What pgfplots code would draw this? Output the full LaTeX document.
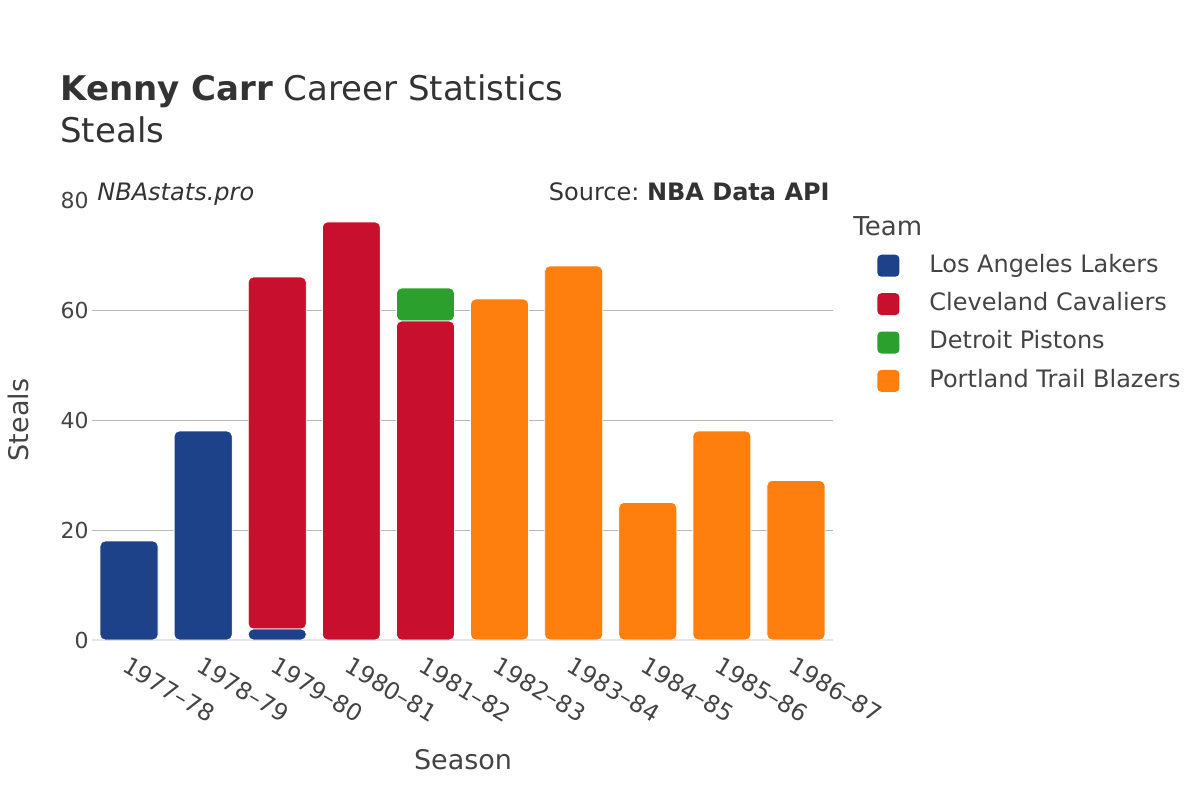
\documentclass[border=0pt]{standalone}
\usepackage{pgfplots}
\pgfplotsset{compat=1.18}
\usepackage{fontspec}
\setmainfont{DejaVu Sans}
\definecolor{lal}{RGB}{29,66,138}
\definecolor{cle}{RGB}{200,16,46}
\definecolor{det}{RGB}{44,160,44}
\definecolor{por}{RGB}{255,127,14}
\definecolor{txt}{RGB}{68,68,68}
\definecolor{ttl}{RGB}{51,51,51}
\begin{document}
\begin{tikzpicture}
\path[use as bounding box] (0pt,0pt) rectangle (600pt,400pt);
\begin{axis}[
  at={(46pt,80pt)}, anchor=south west,
  scale only axis, width=370.5pt, height=220pt,
  xmin=-0.5, xmax=9.5, ymin=0, ymax=80,
  ybar stacked, bar width=29pt,
  axis line style={draw=none},
  x axis line style={draw=none},
  major tick length=0pt,
  xtick={0,...,9},
  xticklabels={1977–78,1978–79,1979–80,1980–81,1981–82,1982–83,1983–84,1984–85,1985–86,1986–87},
  xticklabel style={rotate=-31, anchor=north west, xshift=1pt, yshift=-3pt, font=\fontsize{11.8pt}{13pt}\selectfont, text=txt},
  ytick={0,20,40,60,80},
  yticklabel style={font=\fontsize{11pt}{13pt}\selectfont, text=txt, inner sep=0pt, xshift=-1.5pt},
  /pgf/number format/assume math mode=true,
  extra y ticks={20,40,60}, extra y tick labels={},
  extra y tick style={grid=major, major grid style={draw=black!28, line width=0.5pt}},
  legend style={at={(1.0594,0.877)}, anchor=north west, draw=none, fill=none,
    inner sep=0pt, row sep=8pt, column sep=15pt,
    font=\fontsize{12pt}{14pt}\selectfont, text=txt,
    nodes={inner sep=0pt, text height=8.8pt, text depth=2.4pt},
    cells={anchor=west}},
  legend image code/.code={\fill[#1, draw=none, rounded corners=2pt] (0pt,-5.5pt) rectangle (11pt,5.5pt);},
  clip=false,
]
\addplot[fill=lal, draw=white, line width=0.4pt, rounded corners=2.5pt] coordinates {(0,18) (1,38) (2,2) (3,0) (4,0) (5,0) (6,0) (7,0) (8,0) (9,0)};
\addlegendentry{Los Angeles Lakers}
\addplot[fill=cle, draw=white, line width=0.4pt, rounded corners=2.5pt] coordinates {(0,0) (1,0) (2,64) (3,76) (4,58) (5,0) (6,0) (7,0) (8,0) (9,0)};
\addlegendentry{Cleveland Cavaliers}
\addplot[fill=det, draw=white, line width=0.4pt, rounded corners=2.5pt] coordinates {(0,0) (1,0) (2,0) (3,0) (4,6) (5,0) (6,0) (7,0) (8,0) (9,0)};
\addlegendentry{Detroit Pistons}
\addplot[fill=por, draw=white, line width=0.4pt, rounded corners=2.5pt] coordinates {(0,0) (1,0) (2,0) (3,0) (4,0) (5,62) (6,68) (7,25) (8,38) (9,29)};
\addlegendentry{Portland Trail Blazers}
\draw[color=blue!8!black!10, line width=1pt] (rel axis cs:0,0) -- (rel axis cs:1,0);
\end{axis}
\node[anchor=base west, inner sep=0pt, text=ttl, font=\fontsize{17pt}{20pt}\selectfont] at (30pt,349.5pt) {\textbf{Kenny Carr} Career Statistics};
\node[anchor=base west, inner sep=0pt, text=ttl, font=\fontsize{17pt}{20pt}\selectfont] at (30pt,328.5pt) {Steals};
\node[anchor=base west, inner sep=0pt, text=ttl, font=\fontsize{12pt}{14pt}\selectfont\itshape] at (48.5pt,300pt) {NBAstats.pro};
\node[anchor=base east, inner sep=0pt, text=ttl, font=\fontsize{12pt}{14pt}\selectfont] at (415pt,300pt) {Source:~\textbf{NBA Data API}};
\node[anchor=center, inner sep=0pt, text=txt, font=\fontsize{13.5pt}{16pt}\selectfont] at (231.5pt,20pt) {Season};
\node[anchor=center, inner sep=0pt, text=txt, rotate=90, font=\fontsize{13.5pt}{16pt}\selectfont] at (9pt,190pt) {Steals};
\node[anchor=west, inner sep=0pt, text=txt, font=\fontsize{13pt}{16pt}\selectfont] at (426.5pt,287pt) {Team};
\end{tikzpicture}
\end{document}
